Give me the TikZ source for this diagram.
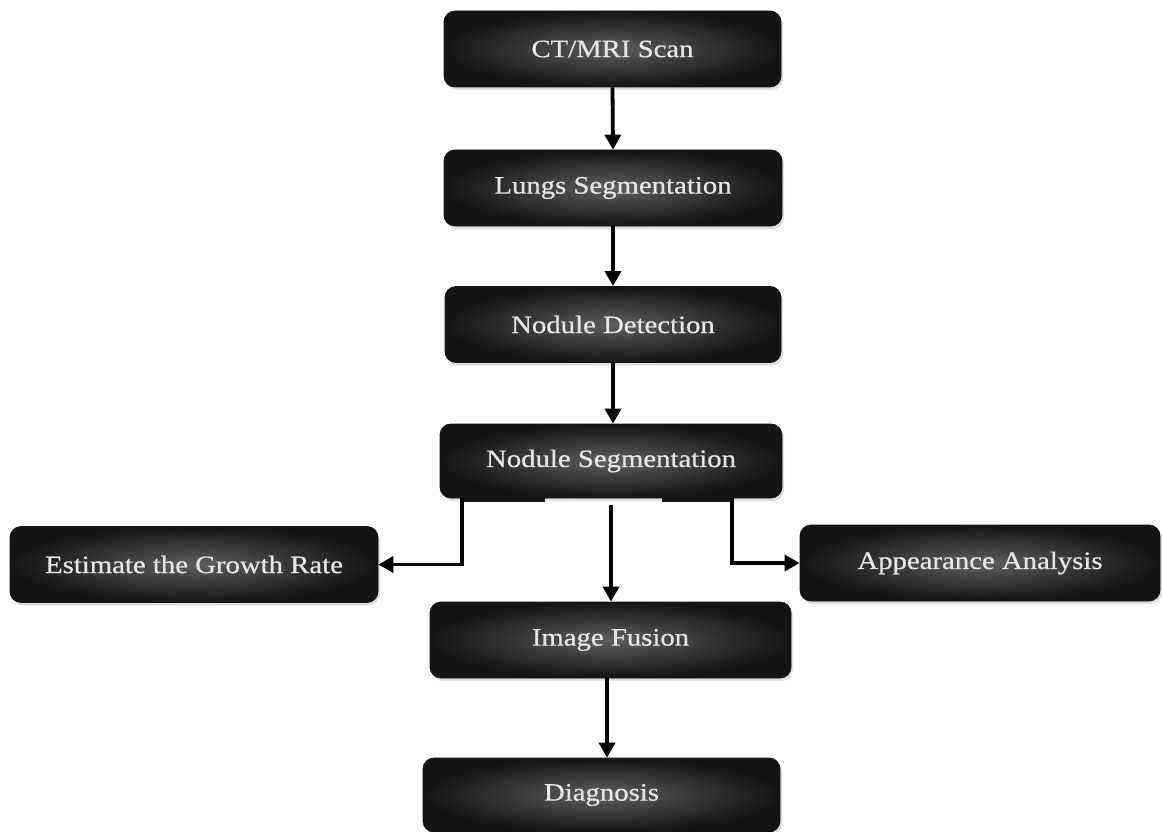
\documentclass[tikz,border=0pt]{standalone}
\usepackage{fontspec}
\setmainfont[FakeStretch=1.15,FakeBold=0.6]{Liberation Serif}
\usetikzlibrary{arrows.meta,shadows}
\definecolor{boxdark}{HTML}{141414}
\definecolor{boxglow}{HTML}{5E5E5E}
\definecolor{boxtext}{HTML}{E6E6E6}
\tikzset{
  stage/.style={rounded corners=11pt, draw=boxdark, line width=0.8pt,
    inner color=boxglow, outer color=boxdark,
    drop shadow={shadow xshift=2pt, shadow yshift=-3pt, opacity=0.25},
    text=boxtext, font=\fontsize{25}{28}\selectfont,
    minimum height=76pt, inner sep=0pt},
  flow/.style={line width=3.8pt, draw=black,
    -{Triangle[length=15pt,width=16pt]}},
  tab/.style={fill=boxdark, draw=none}
}
\begin{document}
\begin{tikzpicture}[x=1pt,y=-1pt]
  \useasboundingbox (0,0) rectangle (1162,832);

  \node[stage, minimum width=337pt] (scan) at (612.5,49) {CT/MRI Scan};
  \node[stage, minimum width=338pt] (lungs) at (613,188) {Lungs Segmentation};
  \node[stage, minimum width=336pt] (detect) at (613,324.5) {Nodule Detection};
  \node[stage, minimum width=342pt, minimum height=74pt] (seg) at (611,461) {Nodule Segmentation};
  \node[stage, minimum width=368pt] (growth) at (194,564.5) {Estimate the Growth Rate};
  \node[stage, minimum width=360pt] (appear) at (980,563) {Appearance Analysis};
  \node[stage, minimum width=361pt] (fusion) at (610.5,640) {Image Fusion};
  \node[stage, minimum width=357pt, minimum height=74pt] (diag) at (601.5,795) {Diagnosis};

  % dark strips along the lower edge of the segmentation box
  \fill[tab] ([xshift=-148pt,yshift=1pt]seg.south) rectangle ([xshift=-66pt,yshift=-4pt]seg.south);
  \fill[tab] ([xshift=51pt,yshift=1pt]seg.south) rectangle ([xshift=121pt,yshift=-4pt]seg.south);

  \draw[flow] (scan.south) -- (lungs.north);
  \draw[flow] (lungs.south) -- (detect.north);
  \draw[flow] (detect.south) -- (detect.south |- seg.north);
  \draw[flow] ([yshift=-7pt]seg.south) -- (seg.south |- fusion.north);
  \draw[flow] ([xshift=-149pt]seg.south) |- (growth.east);
  \draw[flow] ([xshift=121pt]seg.south) |- (appear.west);
  \draw[flow] ([xshift=-3.5pt]fusion.south) -- ([xshift=-3.5pt]fusion.south |- diag.north);
\end{tikzpicture}
\end{document}
